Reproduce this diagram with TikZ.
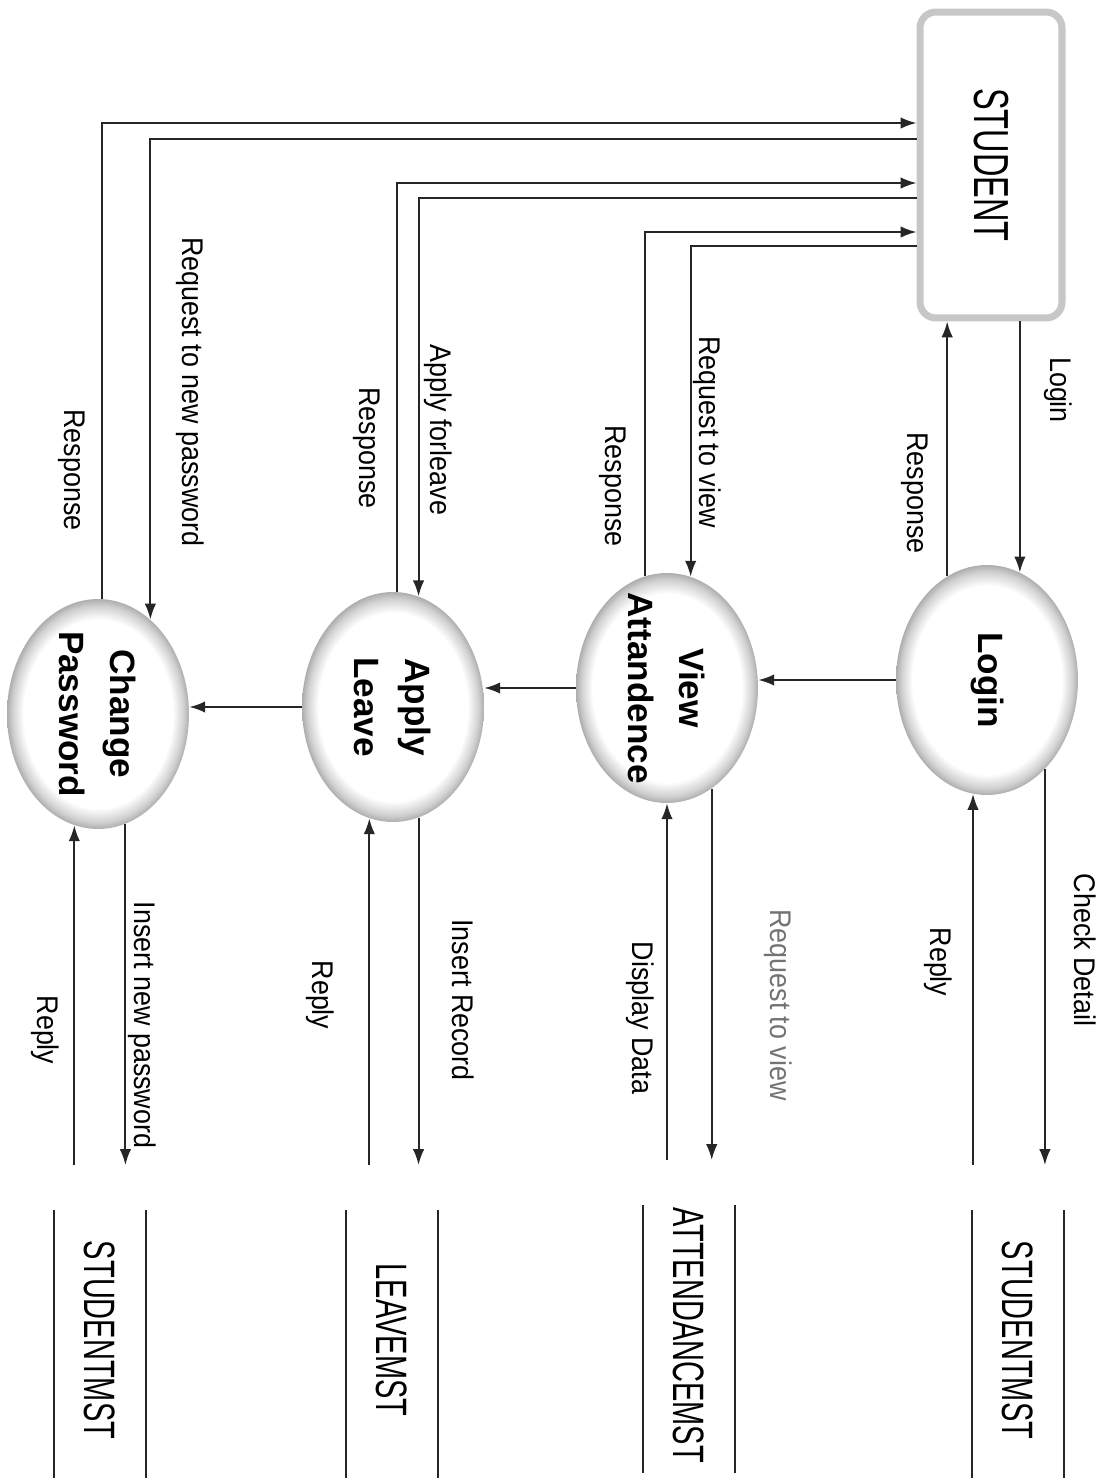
\documentclass[tikz,border=0pt]{standalone}
\usepackage{fontspec}
\setmainfont{Liberation Sans}
\newfontfamily\narrowsf[FakeStretch=0.9]{Liberation Sans}
\newfontfamily\tallsf[FakeStretch=0.66]{Liberation Sans}
\usetikzlibrary{shapes.geometric,arrows.meta,calc}
\pgfdeclareradialshading{bubble}{\pgfpoint{0bp}{0bp}}{color(0bp)=(white); color(20.5bp)=(white); color(23.5bp)=(black!18); color(25bp)=(black!32); color(50bp)=(black!32)}
\tikzstyle{flow}=[draw=black!85,line width=1.1pt,-{Latex[length=9pt,width=6.5pt]}]
\tikzstyle{proc}=[ellipse,shade,shading=bubble,inner sep=0pt,minimum width=3.64cm,minimum height=4.6cm]
\tikzstyle{ptext}=[rotate=-90,align=center,inner sep=0pt,font=\bfseries\fontsize{20}{29}\selectfont]
\tikzstyle{ext}=[rectangle,rounded corners=9pt,fill=white,draw=black!22,line width=4pt,minimum width=2.84cm,minimum height=6.12cm]
\tikzstyle{etext}=[rotate=-90,font=\tallsf\fontsize{28}{30}\selectfont]
\tikzstyle{lbl}=[rotate=-90,inner sep=1pt,font=\narrowsf\fontsize{17}{19}\selectfont]
\tikzstyle{stext}=[rotate=-90,font=\tallsf\fontsize{25}{27}\selectfont]
\tikzstyle{wall}=[draw=black!85,line width=1.3pt]

\begin{document}
\begin{tikzpicture}[x=0.02cm,y=-0.02cm]
\useasboundingbox (0,0) rectangle (1114,1484);

% Nodes
\node[ext]   (student)      at (991,165) {};
\node[etext] (student text) at (student) {STUDENT};

\node[proc]  (login) at (987,680) {};
\node[proc]  (view)  at (667,688) {};
\node[proc]  (apply) at (393,707) {};
\node[proc]  (chg)   at (98,714)  {};
\node[ptext] (login text) at (login) {Login};
\node[ptext] (view text)  at (view)  {View\\Attandence};
\node[ptext] (apply text) at (apply) {Apply\\Leave};
\node[ptext] (chg text)   at (chg)   {Change\\Password};

% Stores
\node[stext] (sm1) at (1018,1340) {STUDENTMST};
\node[stext] (am)  at (689,1335)  {ATTENDANCEMST};
\node[stext] (lm)  at (392,1340)  {LEAVEMST};
\node[stext] (sm2) at (100,1340)  {STUDENTMST};
\foreach \s in {sm1,am,lm,sm2}{
  \draw[wall] ($(\s)+(-46,-130)$) -- ++(0,268);
  \draw[wall] ($(\s)+(46,-130)$) -- ++(0,268);
  \coordinate (\s-top) at ($(\s)+(0,-175)$);
}

% Edges
\draw[flow] (student.south -| login.73) -- (login.73);
\draw[flow] (login.111) -- (login.111 |- student.south);
\draw[flow] (login.303) -- (login.303 |- sm1-top);
\draw[flow] (login.263 |- sm1-top) -- (login.263);
\draw[flow] (login.west) -- (login.west -| view.east);
\draw[flow] (view.west) -- (view.west -| apply.east);
\draw[flow] (apply.west) -- (apply.west -| chg.east);
\draw[flow] (student.west |- 0,246) -| (view.78);
\draw[flow] (view.101) |- (student.west |- 0,232);
\draw[flow] (student.west |- 0,198) -| (apply.77);
\draw[flow] (apply.88) |- (student.west |- 0,183);
\draw[flow] (student.west |- 0,139) -| (chg.61);
\draw[flow] (chg.88) |- (student.west |- 0,123);
\draw[flow] (view.294) -- (view.294 |- am-top);
\draw[flow] (am-top -| view.south) -- (view.south);
\draw[flow] (apply.283) -- (apply.283 |- lm-top);
\draw[flow] (lm-top -| apply.258) -- (apply.258);
\draw[flow] (chg.284) -- (chg.284 |- sm2-top);
\draw[flow] (sm2-top -| chg.258) -- (chg.258);

% Labels
\node[lbl] (login in)     at (1058,390) {Login};
\node[lbl] (login out)    at (915,493)  {Response};
\node[lbl] (view in)      at (707,432)  {Request to view};
\node[lbl] (view out)     at (613,486)  {Response};
\node[lbl] (apply in)     at (438,430)  {Apply forleave};
\node[lbl] (apply out)    at (367,448)  {Response};
\node[lbl] (chg in)       at (190,392)  {Request to new password};
\node[lbl] (chg out)      at (72,470)   {Response};
\node[lbl] (check)        at (1085,950) {Check Detail};
\node[lbl] (login reply)  at (938,962)  {Reply};
\node[lbl,text=black!55] (view req) at (778,1005) {Request to view};
\node[lbl] (display)      at (640,1018) {Display Data};
\node[lbl] (insert rec)   at (463,1000) {Insert Record};
\node[lbl] (apply reply)  at (320,995)  {Reply};
\node[lbl] (insert pw)    at (142,1025) {Insert new password};
\node[lbl] (chg reply)    at (45,1030)  {Reply};

\end{tikzpicture}
\end{document}
